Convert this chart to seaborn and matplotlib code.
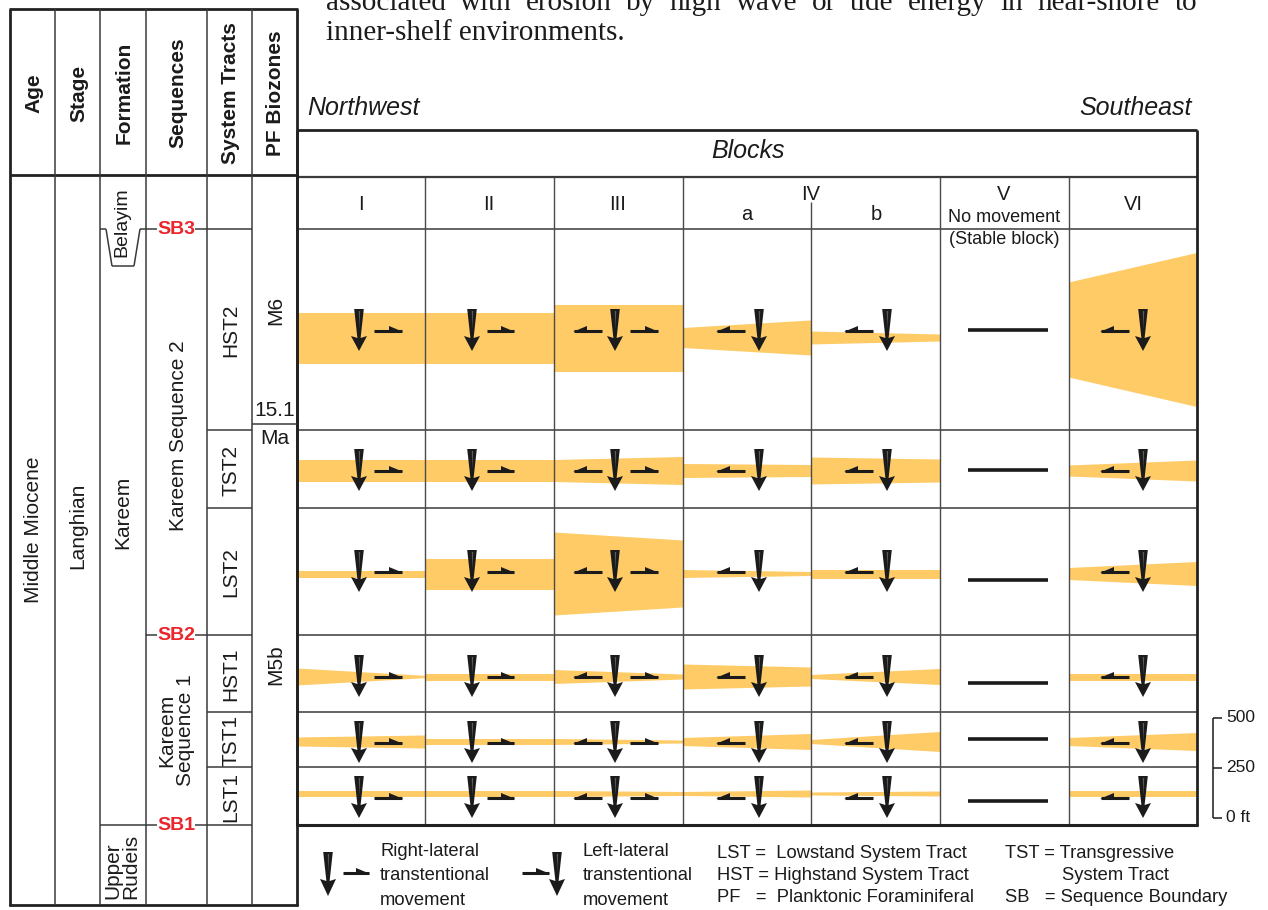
import numpy as np
import pandas as pd
import matplotlib.pyplot as plt
from matplotlib.patches import Polygon
import seaborn as sns

# ---- data -------------------------------------------------------------
blocks = ['I', 'II', 'III', 'IVa', 'IVb', 'V', 'VI']
tracts = ['HST2', 'TST2', 'LST2', 'HST1', 'TST1', 'LST1']

# sediment thickness (ft) at the west / east edge of every block
hst2_w = [255, 255, 335, 100, 65, 0, 475]
hst2_e = [255, 255, 335, 175, 35, 0, 770]
tst2_w = [110, 110, 110, 70, 135, 0, 55]
tst2_e = [110, 110, 140, 60, 115, 0, 105]
lst2_w = [35, 155, 415, 40, 45, 0, 60]
lst2_e = [35, 155, 335, 20, 45, 0, 120]
hst1_w = [85, 35, 70, 125, 20, 0, 35]
hst1_e = [12, 35, 25, 95, 80, 0, 35]
tst1_w = [45, 30, 30, 40, 20, 0, 40]
tst1_e = [65, 30, 15, 80, 100, 0, 90]
lst1_w = [30, 30, 30, 20, 15, 0, 30]
lst1_e = [30, 30, 20, 35, 25, 0, 30]

# movement sense per block: R right-lateral, L left-lateral, None = stable
movement = ['R', 'R', 'LR', 'L', 'L', None, 'L']

scale_ticks = [0, 250, 500]

west = [hst2_w, tst2_w, lst2_w, hst1_w, tst1_w, lst1_w]
east = [hst2_e, tst2_e, lst2_e, hst1_e, tst1_e, lst1_e]
df = pd.DataFrame([(t, b, west[i][j], east[i][j])
                   for i, t in enumerate(tracts) for j, b in enumerate(blocks)],
                  columns=['tract', 'block', 'west', 'east'])

# ---- layout (pixels) --------------------------------------------------
FT_PER_PX = 5.0
col_x = [297, 425, 554, 683, 811, 940, 1069, 1197]
row_y = [229, 430, 508, 635, 712, 767, 825]
band_mid = [338, 471, 574, 677, 742, 794]
sym_y = [331, 471, 572, 677, 743, 798]
still_y = [330, 470, 580, 683, 739, 801]
arrow_x = [359, 472, 615, 759, 887, None, 1143]
right_half = {0: (374, 402), 1: (487, 514), 2: (630, 658)}
left_half = {2: (574, 602), 3: (717, 745), 4: (845, 873), 6: (1101, 1129)}
mid_shift = {('HST2', 'VI'): -8}

BAND = '#FECB66'
INK = '#1b1b1b'
RED = '#E8262C'
GRID = '#3a3a3a'

sns.set_theme(style='white')
SANS = ['Liberation Sans', 'DejaVu Sans']
SERIF = ['Liberation Serif', 'DejaVu Serif']
plt.rcParams['font.family'] = SANS

fig = plt.figure(figsize=(12.68, 9.10), dpi=100)
ax = fig.add_axes([0, 0, 1, 1])
ax.set_xlim(0, 1268)
ax.set_ylim(910, 0)
ax.axis('off')


def line(x0, y0, x1, y1, lw=1.0, c=GRID, z=3):
    ax.plot([x0, x1], [y0, y1], color=c, lw=lw, solid_capstyle='butt', zorder=z)


def down_arrow(x, top, length=42):
    t = top
    pts = [(x - 4.8, t), (x + 4.8, t), (x + 1.6, t + 29), (x + 8, t + 27),
           (x, t + length), (x - 8, t + 27), (x - 1.6, t + 29)]
    ax.add_patch(Polygon(pts, closed=True, fc=INK, ec='none', zorder=6))
    ax.add_patch(Polygon([(x - 0.2, t + 2), (x + 1.2, t + 2), (x + 0.3, t + 20)],
                         closed=True, fc='#5c5c5c', ec='none', zorder=7))


def half_arrow(x0, x1, y, to_right):
    line(x0, y, x1, y, lw=2.2, c=INK, z=6)
    if to_right:
        pts = [(x1 + 1, y + 0.8), (x1 - 13, y - 5), (x1 - 13, y + 0.8)]
    else:
        pts = [(x0 - 1, y + 0.8), (x0 + 13, y - 5), (x0 + 13, y + 0.8)]
    ax.add_patch(Polygon(pts, closed=True, fc=INK, ec='none', zorder=6))


# ---- paragraph fragment at the top -----------------------------------
renderer = fig.canvas.get_renderer()
words = 'associated with erosion by high wave or tide energy in near-shore to'.split()
objs = [ax.text(0, 10, w, fontsize=21, family=SERIF, color=INK, va='baseline')
        for w in words]
widths = [o.get_window_extent(renderer).width for o in objs]
gap = (1197 - 326 - sum(widths)) / (len(words) - 1)
xx = 326
for o, w in zip(objs, widths):
    o.set_x(xx)
    xx += w + gap
ax.text(326, 40, 'inner-shelf environments.', fontsize=21, family=SERIF,
        color=INK, va='baseline')

# ---- orange thickness wedges ------------------------------------------
for i, t in enumerate(tracts):
    for j, b in enumerate(blocks):
        r = df[(df.tract == t) & (df.block == b)].iloc[0]
        if r.west == 0 and r.east == 0:
            continue
        m = band_mid[i] + mid_shift.get((t, b), 0)
        hw = r.west / FT_PER_PX / 2
        he = r.east / FT_PER_PX / 2
        x0, x1 = col_x[j], col_x[j + 1]
        ax.add_patch(Polygon([(x0, m - hw), (x1, m - he), (x1, m + he), (x0, m + hw)],
                             closed=True, fc=BAND, ec='none', zorder=1))

# ---- grid of blocks ---------------------------------------------------
for y in row_y[:-1]:
    line(297, y, 1197, y, lw=1.1)
line(297, 176.5, 1197, 176.5, lw=1.6)
for k, x in enumerate(col_x[1:-1], start=1):
    line(x, 202 if k == 4 else 177, x, 825, lw=1.0, c='#4a4a4a')
line(297, 130, 1197, 130, lw=2.0, c='#222')
line(1197, 130, 1197, 826, lw=2.0, c='#222')
line(296, 825, 1198, 825, lw=2.2, c='#222')
line(297, 130, 297, 826, lw=2.0, c='#222')

ax.text(307, 108, 'Northwest', fontsize=18, style='italic', color=INK, va='center')
ax.text(1192, 108, 'Southeast', fontsize=18, style='italic', color=INK, va='center', ha='right')
ax.text(748, 151, 'Blocks', fontsize=18, style='italic', color=INK, va='center', ha='center')

hdr = [('I', 361, 204), ('II', 489, 204), ('III', 618, 204), ('IV', 811, 195),
       ('a', 747, 214), ('b', 876, 214), ('V', 1004, 194), ('VI', 1133, 204)]
for s, x, y in hdr:
    ax.text(x, y, s, fontsize=14.5, color=INK, ha='center', va='center')
ax.text(1004, 217, 'No movement', fontsize=13, color=INK, ha='center', va='center')
ax.text(1004, 240, '(Stable block)', fontsize=13, color=INK, ha='center', va='center')

# ---- movement symbols -------------------------------------------------
for i, t in enumerate(tracts):
    y = sym_y[i]
    for j, b in enumerate(blocks):
        mv = movement[j]
        if mv is None:
            line(968, still_y[i], 1048, still_y[i], lw=2.6, c=INK, z=6)
            continue
        down_arrow(arrow_x[j], y - 22)
        if 'R' in mv:
            half_arrow(*right_half[j], y, True)
        if 'L' in mv:
            half_arrow(*left_half[j], y, False)

# ---- scale bar --------------------------------------------------------
def ft_to_y(ft):
    return 818 - ft / FT_PER_PX

line(1213, ft_to_y(scale_ticks[-1]), 1213, ft_to_y(scale_ticks[0]), lw=1.1, c=INK)
for v in scale_ticks:
    line(1213, ft_to_y(v), 1222, ft_to_y(v), lw=1.1, c=INK)
    ax.text(1226, ft_to_y(v), f'{v} ft' if v == 0 else str(v), fontsize=12.5,
            color=INK, va='center')

# ---- stratigraphic columns on the left ---------------------------------
cols = [10, 55, 100, 146, 207, 252, 297]
line(9, 9, 298, 9, lw=2.0, c='#222')
line(10, 9, 10, 906, lw=2.0, c='#222')
line(9, 905, 298, 905, lw=2.0, c='#222')
line(297, 9, 297, 906, lw=2.0, c='#222')
line(10, 175, 297, 175, lw=2.0, c='#222')
for x in cols[1:-1]:
    line(x, 9, x, 905, lw=1.1)

heads = ['Age', 'Stage', 'Formation', 'Sequences', 'System Tracts', 'PF Biozones']
for k, h in enumerate(heads):
    ax.text((cols[k] + cols[k + 1]) / 2 + 1, 93, h, fontsize=15, weight='bold',
            rotation=90, ha='center', va='center', color=INK)

rot = dict(rotation=90, ha='center', va='center', color=INK, fontsize=15)
ax.text(34, 530, 'Middle Miocene', **rot)
ax.text(78, 526, 'Langhian', **rot)
ax.text(123, 512, 'Kareem', **rot)
ax.text(178, 436, 'Kareem Sequence 2', **rot)
ax.text(176, 730, 'Kareem\nSequence 1', multialignment='center', linespacing=1.0, **rot)
ax.text(122, 866, 'Upper\nRudeis', multialignment='left', linespacing=0.95, **rot)

# Belayim wedge
line(100, 229, 106, 229, lw=1.1)
line(106, 229, 112, 266, lw=1.1)
line(112, 266, 134, 266, lw=1.1)
line(134, 266, 140, 229, lw=1.1)
ax.text(122, 222, 'Belayim', **{**rot, 'fontsize': 14})

# sequence boundaries
for lab, y, x0 in [('SB3', 229, 140), ('SB2', 635, 146), ('SB1', 825, 100)]:
    line(x0, y, 157, y, lw=1.1)
    line(195, y, 252, y, lw=1.1)
    ax.text(176, y, lab, fontsize=14, weight='bold', color=RED, ha='center', va='center')

# systems tracts column
for y in [430, 508, 712, 767]:
    line(207, y, 252, y, lw=1.1)
for i, t in enumerate(tracts):
    ax.text(231, (row_y[i] + row_y[i + 1]) / 2 + 1, t, **rot)

# PF biozones
ax.text(276, 310, 'M6', **rot)
line(252, 424, 297, 424, lw=1.1)
ax.text(275, 411, '15.1', fontsize=15, ha='center', va='center', color=INK)
ax.text(275, 438, 'Ma', fontsize=15, ha='center', va='center', color=INK)
ax.text(276, 665, 'M5b', **rot)

# ---- legend -----------------------------------------------------------
down_arrow(328, 852, 44)
half_arrow(343, 369, 873, True)
half_arrow(522, 549, 873, True)
down_arrow(557, 852, 44)
leg = dict(fontsize=13.2, color=INK, va='center', linespacing=1.55)
ax.text(380, 876, 'Right-lateral\ntranstentional\nmovement', **leg)
ax.text(583, 876, 'Left-lateral\ntranstentional\nmovement', **leg)
ax.text(717, 854, 'LST =  Lowstand System Tract', **leg)
ax.text(717, 876, 'HST = Highstand System Tract', **leg)
ax.text(717, 898, 'PF   =  Planktonic Foraminiferal', **leg)
ax.text(1005, 854, 'TST = Transgressive', **leg)
ax.text(1062, 876, 'System Tract', **leg)
ax.text(1005, 898, 'SB   = Sequence Boundary', **leg)

fig.savefig('out.png', dpi=100)
